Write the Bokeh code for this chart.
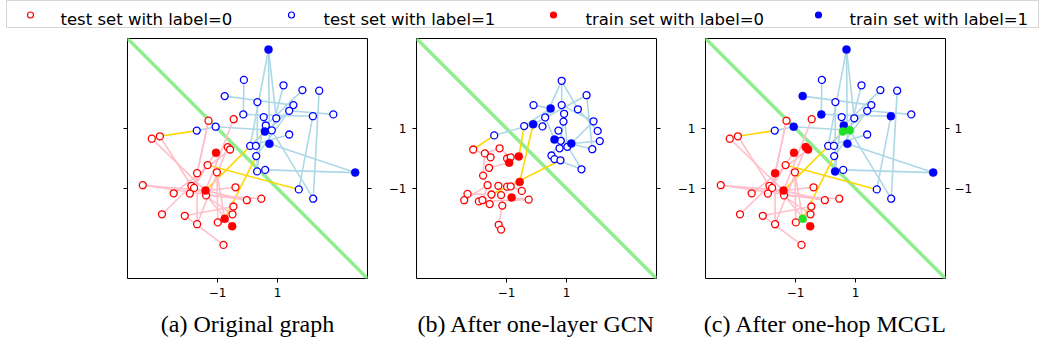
from bokeh.plotting import figure
from bokeh.layouts import column, row
from bokeh.models import Range1d, FixedTicker, LinearAxis, Title
from bokeh.embed import file_html
from bokeh.resources import INLINE

# ---------------- data ----------------
legend_labels = ["test set with label=0", "test set with label=1",
                 "train set with label=0", "train set with label=1"]
captions = ["(a) Original graph", "(b) After one-layer GCN", "(c) After one-hop MCGL"]
tick_values = [-1, 1]
tick_labels = ["\u22121", "1"]
boundary_x = [-4, 4]
boundary_y = [4, -4]

# graph used in panels (a) and (c): node positions
node_x = [0.70, 0.58, 0.73, 3.59, -0.12, 1.20, 1.83, 2.39, -0.76, 0.33, 1.53, 1.39, -0.14, 0.54, 0.96,
          2.18, 2.86, 0.61, 0.81, -1.06, -1.69, 1.39, 0.09, 0.28, 0.29, 0.32, 0.59, 1.71, 2.19,
          -1.05, -1.40, -0.76, -0.51, -1.30, -0.46, -2.92, -3.19, -0.66, -0.58, -1.33, -1.68, -1.02,
          -3.49, -1.87, -1.78, -0.40, -2.46, -1.92, -1.38, -0.02, 0.46, -0.47, -0.50, -2.85, -2.09,
          -1.68, -0.99, -0.80]
node_y = [3.63, 0.90, 0.49, -0.47, 2.62, 2.44, 2.28, 2.26, 2.08, 1.88, 1.78, 1.59, 1.47, 1.38, 1.34,
          1.41, 1.47, 1.10, 0.94, 1.06, 0.93, 0.80, 0.42, 0.42, 0.08, -0.43, -0.38, -1.03, -1.34,
          0.19, -1.07, -2.01, -2.26, 1.26, 1.31, 0.74, 0.66, 0.38, 0.30, -0.22, -0.49, -0.46,
          -0.89, -0.91, -0.98, -0.96, -1.16, -1.17, -1.23, -1.39, -1.34, -1.60, -1.86, -1.86, -1.91,
          -2.19, -2.13, -2.88]
node_label = [1, 1, 1, 1, 1, 1, 1, 1, 1, 1, 1, 1, 1, 1, 1, 1, 1, 1, 1, 1, 1, 1, 1, 1, 1, 1, 1, 1, 1,
              0, 0, 0, 0, 0, 0, 0, 0, 0, 0, 0, 0, 0, 0, 0, 0, 0, 0, 0, 0, 0, 0, 0, 0, 0, 0, 0, 0, 0]
train_a = [0, 1, 2, 3, 29, 30, 31, 32]
train_c = [0, 2, 3, 8, 12, 15, 17, 19, 25, 29, 30, 32, 37, 38, 40]
green_c = [1, 18, 31]
edges_ac = [(35, 20), (30, 1), (31, 24), (39, 27),
            (0, 22), (0, 2), (0, 14), (4, 12), (5, 18), (6, 17), (7, 28), (8, 10), (9, 25),
            (12, 15), (11, 16), (20, 19), (19, 18), (15, 27), (2, 3), (26, 3), (21, 22),
            (10, 24), (13, 25), (18, 28), (1, 17), (11, 22),
            (36, 30), (35, 43), (33, 40), (34, 30), (42, 30), (46, 38), (53, 43), (54, 51),
            (55, 40), (57, 54), (48, 50), (30, 49), (29, 43), (39, 47), (41, 56), (45, 30),
            (52, 44), (37, 55), (32, 48), (31, 41), (42, 49), (33, 44)]

# panel (b): node positions after one-layer GCN
gcn_x = [0.47, -0.11, 0.60, 1.16, 0.84, 1.67, -0.10, 0.84, 1.38, 0.92, 0.29, 0.90, 0.20, -0.41,
         1.90, 0.73, 2.04, 2.11, -1.41, 0.81, 0.77, 1.03, 1.86, 0.50, 0.60, 0.80, 1.50,
         -0.59, -0.91, -0.56, -0.83, -2.11, -1.23, -1.72, -1.53, -0.98, -0.86, -1.58, -1.78,
         -1.63, -1.27, -0.98, -0.86, -0.49, -2.30, -2.41, -1.92, -1.80, -1.50, -1.18, -1.56,
         -1.14, -0.26, -1.26, -1.18]
gcn_y = [1.67, 1.14, 0.63, 0.50, 2.59, 2.11, 1.78, 1.78, 1.64, 1.49, 1.37, 1.23, 1.07, 1.08,
         1.24, 0.93, 0.92, 0.58, 0.77, 0.59, 0.34, 0.39, 0.31, 0.10, -0.02, -0.06, -0.36,
         0.07, -0.14, -0.78, -1.30, 0.30, 0.34, 0.17, 0.04, 0.00, 0.04, -0.31, -0.57,
         -0.89, -0.91, -0.94, -0.93, -1.08, -1.18, -1.39, -1.43, -1.39, -1.20, -1.22, -1.52,
         -1.57, -1.37, -2.21, -2.37]
gcn_label = [1, 1, 1, 1, 1, 1, 1, 1, 1, 1, 1, 1, 1, 1, 1, 1, 1, 1, 1, 1, 1, 1, 1, 1, 1, 1, 1,
             0, 0, 0, 0, 0, 0, 0, 0, 0, 0, 0, 0, 0, 0, 0, 0, 0, 0, 0, 0, 0, 0, 0, 0, 0, 0, 0, 0]
train_b = [0, 1, 2, 3, 27, 28, 29, 30]
edges_b = [(31, 18), (29, 1), (27, 13), (48, 25),
           (4, 10), (4, 7), (4, 8), (5, 1), (5, 22), (18, 1), (6, 0), (2, 22), (3, 17), (15, 26),
           (11, 20), (7, 14), (8, 16), (10, 2), (9, 21), (0, 12), (13, 0), (19, 23), (24, 26),
           (3, 14),
           (33, 32), (37, 28), (33, 38), (44, 48), (46, 52), (53, 51), (30, 52), (39, 47),
           (40, 49), (41, 29), (42, 43), (35, 28), (36, 27), (38, 39), (50, 48), (54, 53),
           (31, 34), (45, 39), (32, 36)]

# ---------------- styles ----------------
RED = "#ff0000"
BLUE = "#0000ff"
GREEN = "#22e022"
EDGE_COL = {0: "#ffc0cb", 1: "#add8e6", 2: "#ffd700"}
TICK_FONT = "DejaVu Sans"


def style_axis(ax, show_labels):
    ax.ticker = FixedTicker(ticks=tick_values)
    if show_labels:
        ax.major_label_overrides = dict(zip(tick_values, tick_labels))
    else:
        ax.major_label_overrides = {t: "" for t in tick_values}
    ax.axis_line_color = None
    ax.major_tick_in = 0
    ax.major_tick_out = 4
    ax.minor_tick_in = 0
    ax.minor_tick_out = 0
    ax.major_tick_line_color = "black"
    ax.major_tick_line_width = 1
    ax.major_label_text_font = TICK_FONT
    ax.major_label_text_font_size = "12px"
    ax.major_label_text_color = "black"
    ax.major_label_standoff = 5


def make_panel(xs, ys, labels, train, green, edges, left_lab, right_lab, caption, mbl, mbr):
    p = figure(frame_width=240, frame_height=240, x_range=Range1d(-4, 4), y_range=Range1d(-4, 4),
               output_backend="svg", toolbar_location=None, title=None,
               x_axis_location=None, y_axis_location=None,
               min_border_left=mbl, min_border_right=mbr, min_border_top=10, min_border_bottom=66,
               background_fill_color="white", border_fill_color="white")
    p.outline_line_color = "black"
    p.outline_line_width = 1
    p.outline_line_alpha = 1
    for g in p.grid:
        g.visible = False

    bx = LinearAxis()
    style_axis(bx, True)
    p.add_layout(bx, "below")
    lx = LinearAxis()
    style_axis(lx, left_lab)
    lx.major_label_standoff = 6
    p.add_layout(lx, "left")
    rx = LinearAxis()
    style_axis(rx, right_lab)
    p.add_layout(rx, "right")

    p.add_layout(Title(text=caption, align="center", text_font="Liberation Serif",
                       text_font_size="24px", text_font_style="normal", text_color="black",
                       standoff=18), "below")

    # decision boundary
    p.line(boundary_x, boundary_y, line_color="#90ee90", line_width=3.5)

    # edges
    x0 = [xs[a] for a, b in edges]
    y0 = [ys[a] for a, b in edges]
    x1 = [xs[b] for a, b in edges]
    y1 = [ys[b] for a, b in edges]
    cols = []
    for a, b in edges:
        if labels[a] != labels[b]:
            cols.append(EDGE_COL[2])
        else:
            cols.append(EDGE_COL[labels[a]])
    p.segment(x0=x0, y0=y0, x1=x1, y1=y1, line_color=cols, line_width=1.6)

    n = len(xs)
    special = set(train) | set(green)
    for lab, col in ((0, RED), (1, BLUE)):
        idx = [i for i in range(n) if labels[i] == lab and i not in special]
        p.scatter([xs[i] for i in idx], [ys[i] for i in idx], marker="circle", size=7,
                  fill_color="white", line_color=col, line_width=1.3)
    for lab, col in ((0, RED), (1, BLUE)):
        idx = [i for i in train if labels[i] == lab]
        p.scatter([xs[i] for i in idx], [ys[i] for i in idx], marker="circle", size=8,
                  fill_color=col, line_color=col, line_width=0.5)
    if green:
        p.scatter([xs[i] for i in green], [ys[i] for i in green], marker="circle", size=8,
                  fill_color=GREEN, line_color=GREEN, line_width=0.5)
    return p


p1 = make_panel(node_x, node_y, node_label, train_a, [], edges_ac, False, False, captions[0], 127, 14)
p2 = make_panel(gcn_x, gcn_y, gcn_label, train_b, [], edges_b, True, False, captions[1], 35, 14)
p3 = make_panel(node_x, node_y, node_label, train_c, green_c, edges_ac, True, True, captions[2], 35, 40)

# ---------------- legend strip ----------------
leg = figure(frame_width=1033, frame_height=28, x_range=Range1d(6, 1039), y_range=Range1d(28, 0),
             output_backend="svg", toolbar_location=None, title=None,
             x_axis_location=None, y_axis_location=None, min_border=0, min_border_left=6,
             background_fill_color="white", border_fill_color="white")
leg.outline_line_color = "#d5d5d5"
leg.outline_line_width = 1
for g in leg.grid:
    g.visible = False
mark_x = [30, 291, 553, 818]
text_x = [60, 323, 585, 849]
mark_fill = ["white", "white", RED, BLUE]
mark_line = [RED, BLUE, RED, BLUE]
leg.scatter(mark_x, [14.5] * 4, marker="circle", size=6, fill_color=mark_fill, line_color=mark_line,
            line_width=1.2)
leg.text(text_x, [18.5] * 4, text=legend_labels, text_font_size="16.5px", text_baseline="alphabetic",
         text_align="left", text_color="black", text_font={"value": "DejaVu Sans"})

layout = column(leg, row(p1, p2, p3))

with open("out.html", "w") as f:
    f.write(file_html(layout, INLINE))
